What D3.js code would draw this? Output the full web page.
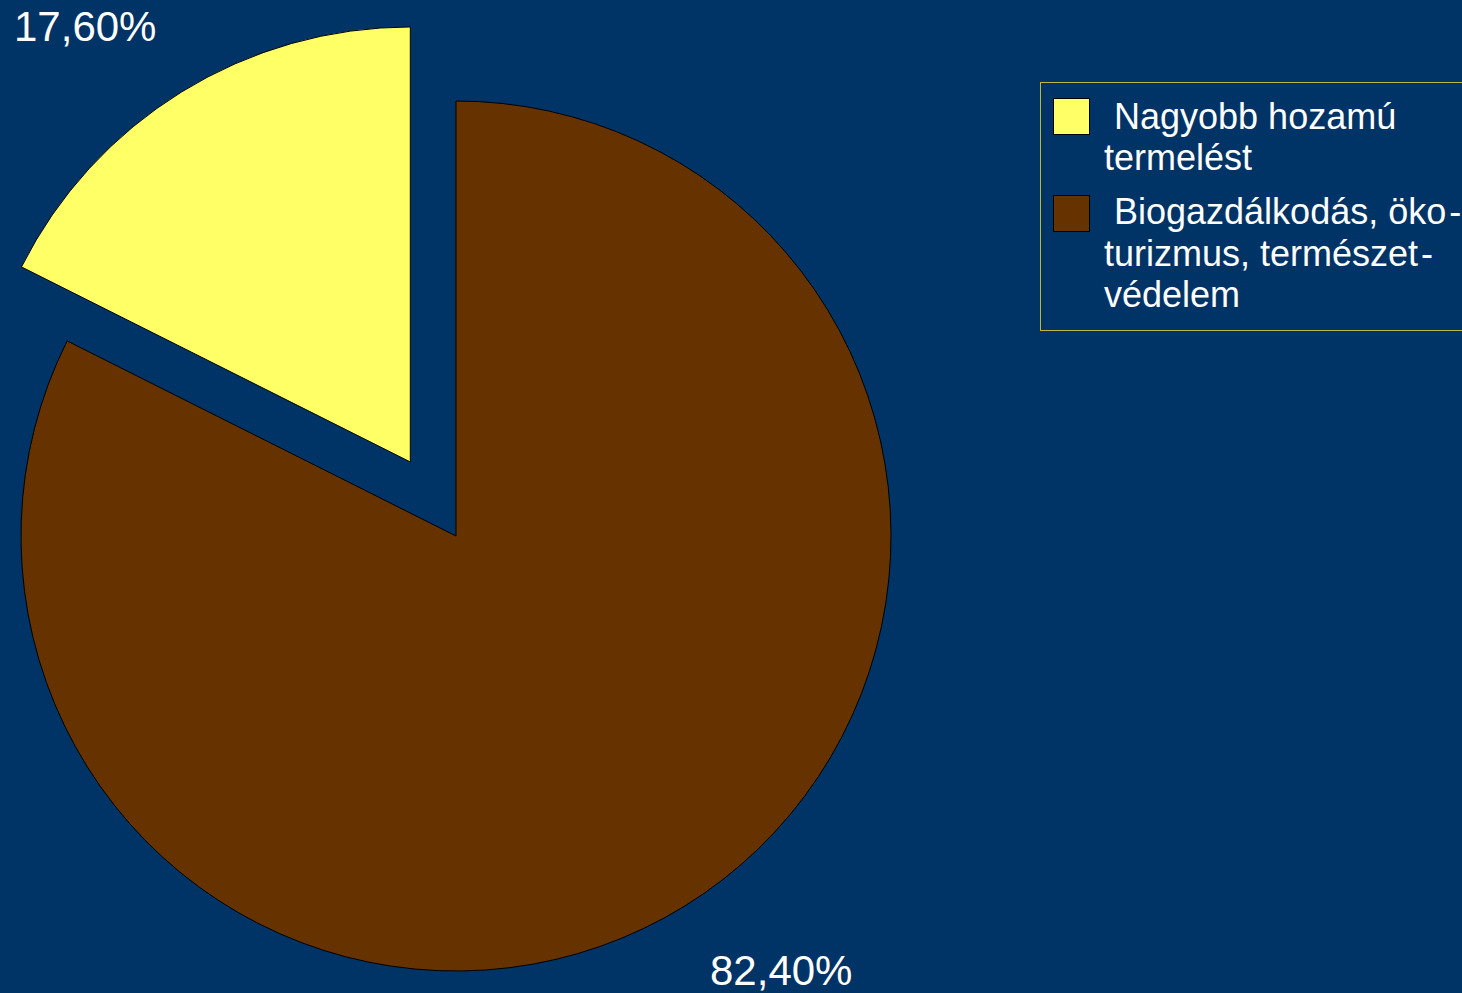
<!DOCTYPE html>
<html><head><meta charset="utf-8">
<script src="https://cdn.jsdelivr.net/npm/d3@7"></script>
<style>
html,body{margin:0;padding:0;background:#003366;overflow:hidden}
text{font-family:"Liberation Sans",Arial,sans-serif;fill:#ffffff;white-space:pre}
</style></head><body>
<svg id="c" width="1462" height="993"></svg>
<script>
const categories = ["Nagyobb hozamú termelést", "Biogazdálkodás, öko-turizmus, természet-védelem"];
const values = [17.6, 82.4];
const valueLabels = ["17,60%", "82,40%"];
const legendLines = [[" Nagyobb hozamú", "termelést"], [" Biogazdálkodás, öko\u200A-", "turizmus, természet\u200A-", "védelem"]];
const colors = ["#ffff66", "#663300"];

const svg = d3.select("#c");
svg.append("rect").attr("width",1462).attr("height",993).attr("fill","#003366");

const cx = 456, cy = 536, R = 435, explode = 87;
// yellow slice is last clockwise from 12 o'clock (ends at 360°)
const pie = d3.pie().sort(null).value(d => d.v)
  .startAngle(0).endAngle(2*Math.PI);
const data = pie([{i:1, v:values[1]}, {i:0, v:values[0]}]);
const arc = d3.arc().innerRadius(0).outerRadius(R);

const g = svg.append("g").attr("transform",`translate(${cx},${cy})`);
g.selectAll("path").data(data).join("path")
  .attr("d", arc)
  .attr("fill", d => colors[d.data.i])
  .attr("stroke","#000").attr("stroke-width",1)
  .attr("transform", d => {
    if (d.data.i !== 0) return null;
    const m = (d.startAngle + d.endAngle)/2;
    return `translate(${explode*Math.sin(m)},${-explode*Math.cos(m)})`;
  });

// value labels
svg.append("text").attr("x",14).attr("y",41).attr("font-size",42).text(valueLabels[0]);
svg.append("text").attr("x",710).attr("y",985).attr("font-size",42).text(valueLabels[1]);

// legend
svg.append("rect").attr("x",1040.5).attr("y",82.5).attr("width",440).attr("height",248)
  .attr("fill","none").attr("stroke","#b8b83a").attr("stroke-width",1);
const swY = [98, 195];
const lineY = [[129,170],[224,266,307]];
categories.forEach((c,i) => {
  svg.append("rect").attr("x",1053.5).attr("y",swY[i]+0.5).attr("width",36).attr("height",36)
    .attr("fill",colors[i]).attr("stroke","#000").attr("stroke-width",1);
  const t = svg.append("text").attr("font-size",36);
  legendLines[i].forEach((ln,j) => {
    t.append("tspan").attr("x",1104).attr("y",lineY[i][j]).text(ln);
  });
});
</script>
</body></html>
